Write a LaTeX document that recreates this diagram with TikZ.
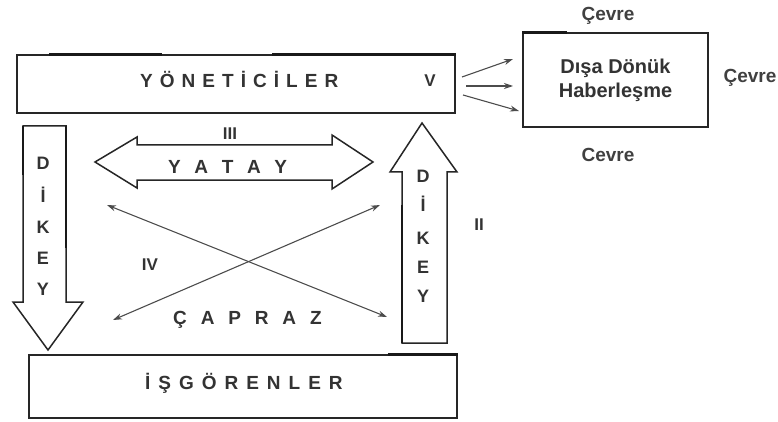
\documentclass[tikz,border=0pt]{standalone}
\usepackage{fontspec}
\setmainfont{Liberation Sans}
\usetikzlibrary{arrows.meta}
\newcommand\wide[2]{{\addfontfeature{LetterSpace=#1}#2}}
\begin{document}
\begin{tikzpicture}[x=1pt,y=-1pt,
  ink/.style={draw=black!85,line width=1.5pt},
  heavy/.style={draw=black!90,line width=2.6pt},
  box/.style={ink,rectangle,inner sep=0pt},
  block/.style={ink,fill=white,line join=miter},
  thin/.style={draw=black!70,line width=1.1pt,-{Stealth[length=9pt,width=6pt]}},
  both/.style={draw=black!70,line width=1.1pt,{Stealth[length=9pt,width=6pt]}-{Stealth[length=9pt,width=6pt]}},
  lbl/.style={font=\bfseries\fontsize{19}{21}\selectfont,text=black!80,inner sep=0pt},
  ltr/.style={font=\bfseries\fontsize{18}{20}\selectfont,text=black!80,inner sep=0pt},
  num/.style={font=\bfseries\fontsize{17}{20}\selectfont,text=black!80,inner sep=0pt},
  env/.style={font=\bfseries\fontsize{19}{22}\selectfont,text=black!75,inner sep=0pt}]
\useasboundingbox (0,0) rectangle (778,422);

% main boxes
\node[box,minimum width=438pt,minimum height=58pt] (yon) at (236,84) {};
\node[box,minimum width=428pt,minimum height=63pt] (isg) at (243,386.5) {};
\node[box,minimum width=185pt,minimum height=94pt,align=center,
      font=\bfseries\fontsize{20}{24}\selectfont,text=black!80] (dis) at (615.5,80)
      {Dışa Dönük\\Haberleşme};

% heavier stretches of the box outlines
\draw[heavy] ([xshift=33pt]yon.north west) -- ([xshift=146pt]yon.north west);
\draw[heavy] ([xshift=256pt]yon.north west) -- (yon.north east);
\draw[heavy] ([xshift=-70pt]isg.north east) -- (isg.north east);
\draw[heavy] (dis.north west) -- ([xshift=45pt]dis.north west);

\node[lbl,anchor=west] (yontxt) at (140,79) {\wide{37}{YÖNETİCİLER}};
\node[lbl,anchor=west] (isgtxt) at (145,383) {\wide{42}{İŞGÖRENLER}};
\node[num] (v) at (430,81) {V};

% environment labels
\node[env] (c1) at (608,16) {Çevre};
\node[env] (c2) at (750,78) {Çevre};
\node[env] (c3) at (608,155) {Cevre};

% outward arrows
\coordinate (a1) at (462,77);  \coordinate (b1) at (513,59);
\coordinate (a2) at (466,86);  \coordinate (b2) at (513,86);
\coordinate (a3) at (463,95);  \coordinate (b3) at (519,111);
\draw[thin] (a1) -- (b1);
\draw[thin] (a2) -- (b2);
\draw[thin] (a3) -- (b3);

% vertical block arrows
\draw[block] (23,126) -- (66,126) -- (66,302) -- (83,302) -- (48,350)
  -- (13,302) -- (23,302) -- cycle;
\draw[heavy] (23,126) -- (23,175);
\draw[heavy] (66,126) -- (66,248);
\draw[block] (402,343) -- (402,172) -- (390,172) -- (422,123) -- (457,172)
  -- (447,172) -- (447,343) -- cycle;
\draw[heavy] (402,205) -- (402,343);
\foreach \t/\y [count=\i] in {D/163,İ/195,K/227,E/258,Y/289}
  \node[ltr] (l\i) at (43,\y) {\t};
\foreach \t/\y [count=\i] in {D/176,İ/204,K/238,E/267,Y/296}
  \node[ltr] (r\i) at (423,\y) {\t};
\node[num] (ii) at (479,225) {II};

% horizontal block arrow
\draw[block] (95,162) -- (137,137) -- (137,145) -- (332,145) -- (332,135)
  -- (373,162) -- (332,189) -- (332,180) -- (137,180) -- (137,188) -- cycle;
\node[lbl,anchor=west] (yatay) at (168,167) {\wide{80}{YATAY}};
\node[num] (iii) at (230,134) {III};

% diagonal arrows
\coordinate (p1) at (107,205); \coordinate (q1) at (387,317);
\coordinate (p2) at (113,320); \coordinate (q2) at (380,205);
\draw[both] (p1) -- (q1);
\draw[both] (p2) -- (q2);
\node[num] (iv) at (150,265) {IV};
\node[lbl,anchor=west] (capraz) at (173,320) {\wide{73}{ÇAPRAZ}};
\end{tikzpicture}
\end{document}
